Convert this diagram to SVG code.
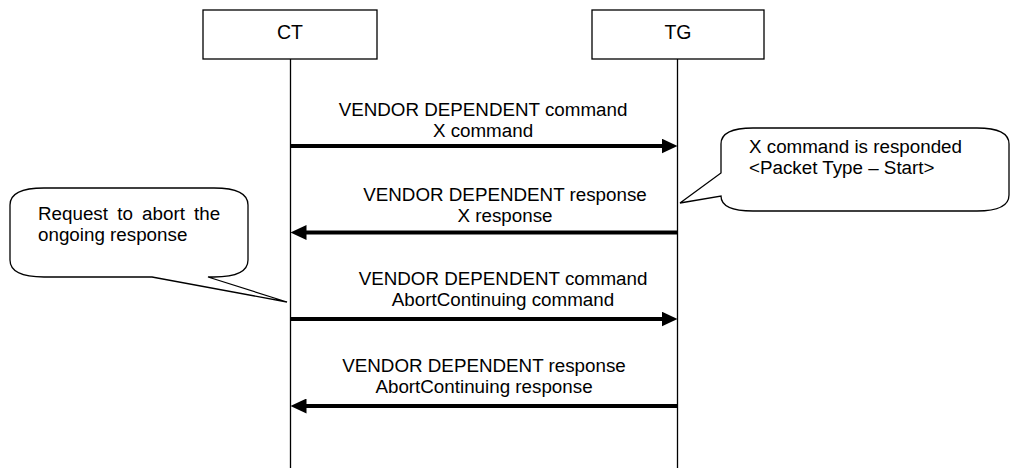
<svg xmlns="http://www.w3.org/2000/svg" width="1013" height="468" viewBox="0 0 1013 468">
<defs>
<style>
.box{fill:#fff;stroke:#000;stroke-width:1.3}
.life{stroke:#000;stroke-width:1.3;fill:none}
.msg{stroke:#000;stroke-width:4;fill:none;marker-end:url(#ah)}
.call{fill:#fff;stroke:#000;stroke-width:1.3;stroke-linejoin:miter}
text{font-family:"Liberation Sans",Arial,sans-serif;fill:#000}
.lbl{font-size:19.5px;text-anchor:middle}
.t{font-size:18.8px;text-anchor:middle}
.c{font-size:18.8px}
</style>
<marker id="ah" markerUnits="userSpaceOnUse" markerWidth="16" markerHeight="15" refX="6" refY="7.5" orient="auto">
<path d="M0,0 L16,7.5 L0,15 Z" fill="#000"/>
</marker>
</defs>
<rect width="1013" height="468" fill="#fff"/>
<g id="CT">
<line class="life" x1="290.5" y1="59" x2="290.5" y2="468"/>
<rect class="box" x="203" y="10" width="174" height="49"/>
<text class="lbl" x="290" y="39">CT</text>
</g>
<g id="TG">
<line class="life" x1="677.5" y1="59" x2="677.5" y2="468"/>
<rect class="box" x="592" y="10" width="172" height="49"/>
<text class="lbl" x="678" y="39">TG</text>
</g>
<g id="connectors">
<line class="msg" x1="290.5" y1="146" x2="667.5" y2="146"/>
<line class="msg" x1="677.5" y1="232.5" x2="300.5" y2="232.5"/>
<line class="msg" x1="290.5" y1="319" x2="667.5" y2="319"/>
<line class="msg" x1="677.5" y1="406" x2="300.5" y2="406"/>
</g>
<g id="labels">
<text class="t" x="483" y="116">VENDOR DEPENDENT command</text>
<text class="t" x="483" y="137">X command</text>
<text class="t" x="505" y="201">VENDOR DEPENDENT response</text>
<text class="t" x="505" y="222">X response</text>
<text class="t" x="503" y="285">VENDOR DEPENDENT command</text>
<text class="t" x="503" y="306">AbortContinuing command</text>
<text class="t" x="484" y="372">VENDOR DEPENDENT response</text>
<text class="t" x="484" y="393">AbortContinuing response</text>
</g>
<g id="note-TG">
<path class="call" d="M753,128 H977 Q1009,128 1009,144 V195 Q1009,211 977,211 H753 Q721,211 721,196 L680,203 L721,173 V144 Q721,128 753,128 Z"/>
<text class="c" x="749" y="153">X command is responded</text>
<text class="c" x="749" y="174">&lt;Packet Type – Start&gt;</text>
</g>
<g id="note-CT">
<path class="call" d="M44,188 H214 Q248,188 248,205 V260 Q248,277 214,277 H208 L287,302 L152,277 H44 Q10,277 10,260 V205 Q10,188 44,188 Z"/>
<text class="c" x="38" y="220" word-spacing="4">Request to abort the</text>
<text class="c" x="38" y="241">ongoing response</text>
</g>
</svg>
